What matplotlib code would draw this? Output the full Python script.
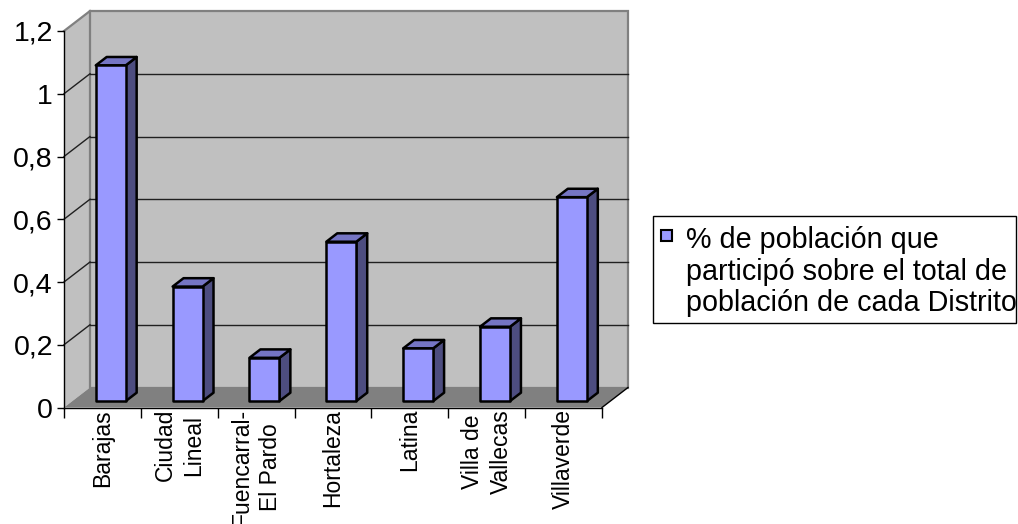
import matplotlib
matplotlib.use("Agg")
import matplotlib.pyplot as plt
from matplotlib.patches import Polygon, Rectangle

plt.rcParams['font.family'] = ['Liberation Sans', 'DejaVu Sans']

# ---- data ----
categories = ["Barajas", "Ciudad\nLineal", "Fuencarral-\nEl Pardo", "Hortaleza",
              "Latina", "Villa de\nVallecas", "Villaverde"]
values = [1.07, 0.365, 0.138, 0.508, 0.168, 0.237, 0.65]
yticks = [0, 0.2, 0.4, 0.6, 0.8, 1.0, 1.2]
ytick_labels = ["0", "0,2", "0,4", "0,6", "0,8", "1", "1,2"]
series_label = "% de población que\nparticipó sobre el total de\npoblación de cada Distrito"

# ---- styling ----
W, H = 1018, 524
fig = plt.figure(figsize=(W / 100, H / 100), dpi=100)
fig.patch.set_facecolor('white')

x0, x1 = 64, 602
y0, ytop = 407.5, 31
ax = fig.add_axes([x0 / W, 1 - y0 / H, (x1 - x0) / W, (y0 - ytop) / H])
n = len(categories)
ax.set_xlim(0, n)
ax.set_ylim(0, 1.2)
ax.patch.set_visible(False)

# 3D depth offsets (in data units)
px_per_cat = (x1 - x0) / n
px_per_val = (y0 - ytop) / 1.2
DX = 26 / px_per_cat
DY = 20 / px_per_val


def P(x, v, d):
    return (x + d * DX, v + d * DY)


wall_c = '#C0C0C0'
floor_c = '#808080'
border_c = '#808080'

# left wall
ax.add_patch(Polygon([P(0, 0, 0), P(0, 1.2, 0), P(0, 1.2, 1), P(0, 0, 1)],
                     closed=True, facecolor=wall_c, edgecolor='none', clip_on=False, zorder=1))
# back wall
ax.add_patch(Polygon([P(0, 0, 1), P(n, 0, 1), P(n, 1.2, 1), P(0, 1.2, 1)],
                     closed=True, facecolor=wall_c, edgecolor=border_c, lw=1.6,
                     clip_on=False, zorder=1))
# top edge of left wall
ax.plot(*zip(P(0, 1.2, 0), P(0, 1.2, 1)), color=border_c, lw=1.6, clip_on=False, zorder=1.5)
# floor
ax.add_patch(Polygon([P(0, 0, 0), P(n, 0, 0), P(n, 0, 1), P(0, 0, 1)],
                     closed=True, facecolor=floor_c, edgecolor='none', clip_on=False, zorder=2))
ax.plot(*zip(P(n, 0, 0), P(n, 0, 1)), color='black', lw=1.0, clip_on=False, zorder=2.5)

# gridlines on back and left wall
for v in yticks[1:-1]:
    ax.plot(*zip(P(0, v, 1), P(n, v, 1)), color='#202020', lw=1.0, clip_on=False, zorder=1.6)
    ax.plot(*zip(P(0, v, 0), P(0, v, 1)), color='#202020', lw=1.0, clip_on=False, zorder=1.6)

# bars
bw = 0.39
d0, d1 = 0.32, 0.74
front_c = '#9999FF'
top_c = '#7575C4'
side_c = '#4D4D80'
for i, v in enumerate(values):
    xl = i + (1 - bw) / 2
    xr = xl + bw
    ek = dict(edgecolor='black', lw=1.8, joinstyle='round', clip_on=False)
    ax.add_patch(Polygon([P(xr, 0, d0), P(xr, v, d0), P(xr, v, d1), P(xr, 0, d1)],
                         closed=True, facecolor=side_c, zorder=3, **ek))
    ax.add_patch(Polygon([P(xl, v, d0), P(xr, v, d0), P(xr, v, d1), P(xl, v, d1)],
                         closed=True, facecolor=top_c, zorder=3, **ek))
    ax.add_patch(Polygon([P(xl, 0, d0), P(xr, 0, d0), P(xr, v, d0), P(xl, v, d0)],
                         closed=True, facecolor=front_c, zorder=4, **ek))

# axes spines / ticks
for s in ['top', 'right']:
    ax.spines[s].set_visible(False)
ax.spines['left'].set_color('black')
ax.spines['bottom'].set_color('black')
ax.spines['left'].set_linewidth(1.0)
ax.spines['bottom'].set_linewidth(1.0)
ax.spines['left'].set_zorder(5)
ax.spines['bottom'].set_zorder(5)

ax.set_yticks(yticks)
ax.set_yticklabels(ytick_labels, fontsize=20.5)
ax.tick_params(axis='y', direction='out', length=5, width=1, pad=3, colors='black')

ax.set_xticks(range(n + 1))
ax.set_xticklabels([''] * (n + 1))
ax.tick_params(axis='x', which='major', direction='out', length=7, width=1)
ax.set_xticks([i + 0.5 for i in range(n)], minor=True)
ax.set_xticklabels(categories, minor=True, rotation=90, fontsize=16.5,
                   ha='center', va='top', multialignment='center', linespacing=1.3)
ax.tick_params(axis='x', which='minor', length=0, pad=1)

# legend (drawn as figure artists, positions in figure pixels)
def fx(px):
    return px / W


def fy(py):
    return 1 - py / H


fig.patches.append(Rectangle((fx(653), fy(323)), fx(1016) - fx(653), fy(216) - fy(323),
                             transform=fig.transFigure, facecolor='white',
                             edgecolor='black', lw=1.0, zorder=5))
fig.patches.append(Rectangle((fx(661), fy(241)), fx(672) - fx(661), fy(230) - fy(241),
                             transform=fig.transFigure, facecolor=front_c,
                             edgecolor='black', lw=1.5, zorder=6))
fig.text(fx(686), fy(226), series_label, fontsize=20.7, ha='left', va='top',
         linespacing=1.17, zorder=6)

fig.savefig('out.png', dpi=100)
